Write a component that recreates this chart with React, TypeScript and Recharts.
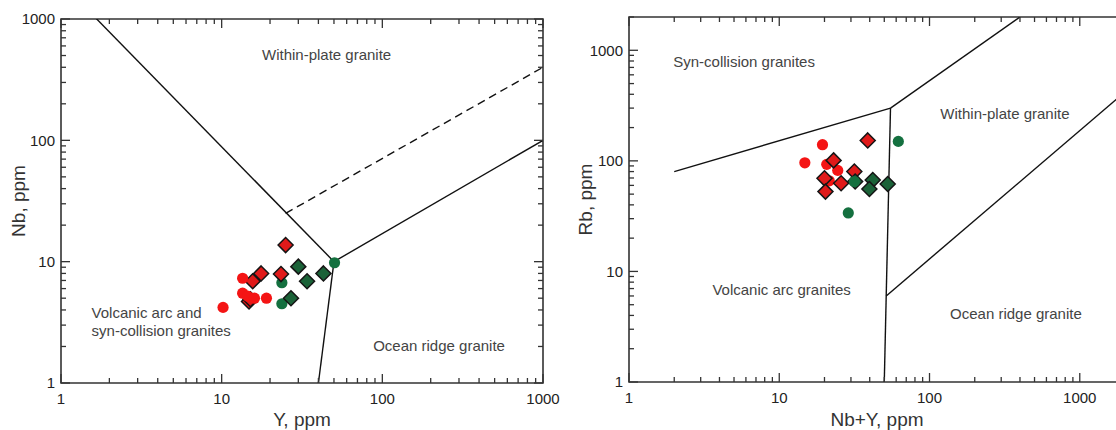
import React from 'react';
import {
  ScatterChart,
  Scatter,
  XAxis,
  YAxis,
  ReferenceLine,
  ReferenceArea,
  ReferenceDot
} from 'recharts';

const FONT = '"Liberation Sans", Arial, Helvetica, sans-serif';

// log axis ticks
const LOG_TICKS = [1, 2, 3, 4, 5, 6, 7, 8, 9, 10, 20, 30, 40, 50, 60, 70, 80, 90, 100, 200, 300, 400, 500, 600, 700, 800, 900, 1000];
const LOG_TICKS_2000 = [...LOG_TICKS, 2000];
const MAJOR_TICKS = [1, 10, 100, 1000];

// Nb vs Y (x = Y, y = Nb)
const nbRedCircles = [
  { x: 13.5, y: 7.3 }, { x: 13.5, y: 5.5 }, { x: 14.5, y: 5.2 },
  { x: 16, y: 5.0 }, { x: 19, y: 5.0 }, { x: 10.2, y: 4.2 }
];
const nbRedDiamonds = [
  { x: 25, y: 13.7 }, { x: 17.6, y: 8.0 }, { x: 23.4, y: 7.9 },
  { x: 15.6, y: 6.9 }, { x: 14.8, y: 4.7 }, { x: 15.1, y: 4.9 }
];
const nbGreenCircles = [{ x: 23.7, y: 6.7 }, { x: 23.7, y: 4.5 }, { x: 50.4, y: 9.8 }];
const nbGreenDiamonds = [{ x: 30, y: 9.1 }, { x: 43, y: 8.0 }, { x: 34, y: 6.9 }, { x: 27, y: 5.0 }];

// Rb vs Nb+Y
const rbRedCircles = [
  { x: 19.4, y: 140 }, { x: 14.8, y: 96 }, { x: 20.7, y: 93 },
  { x: 24.5, y: 82 }, { x: 21.5, y: 66 }
];
const rbRedDiamonds = [
  { x: 38.8, y: 153 }, { x: 23, y: 101 }, { x: 31.6, y: 80 },
  { x: 20, y: 69.5 }, { x: 25.8, y: 62.7 }, { x: 20.3, y: 52.7 }
];
const rbGreenCircles = [{ x: 62, y: 150 }, { x: 28.8, y: 33.8 }];
const rbGreenDiamonds = [{ x: 41.9, y: 67 }, { x: 39.8, y: 55.7 }, { x: 52.7, y: 61.8 }, { x: 32, y: 65 }];
const rbGreenCirclesTop = [{ x: 31.6, y: 65 }];

// field boundaries
const nbBoundaries = [
  [{ x: 1, y: 2000 }, { x: 50, y: 10 }],
  [{ x: 50, y: 10 }, { x: 1000, y: 100 }],
  [{ x: 50, y: 10 }, { x: 40, y: 1 }]
];
const nbDashed = [{ x: 25, y: 25 }, { x: 1000, y: 400 }];
const rbBoundaries = [
  [{ x: 2, y: 80 }, { x: 55, y: 300 }],
  [{ x: 55, y: 300 }, { x: 400, y: 2000 }],
  [{ x: 55, y: 300 }, { x: 51.5, y: 6 }],
  [{ x: 51.5, y: 6 }, { x: 50, y: 1 }],
  [{ x: 51.5, y: 6 }, { x: 2000, y: 420 }]
];

// field names
const nbFields = [
  { text: 'Within-plate granite', x: 45, y: 507, anchor: 'middle' },
  { text: 'Volcanic arc and', x: 1.55, y: 3.79, anchor: 'start' },
  { text: 'syn-collision granites', x: 1.55, y: 2.71, anchor: 'start' },
  { text: 'Ocean ridge granite', x: 87.7, y: 2.01, anchor: 'start' }
];
const rbFields = [
  { text: 'Syn-collision granites', x: 1.97, y: 786, anchor: 'start' },
  { text: 'Within-plate granite', x: 118, y: 264, anchor: 'start' },
  { text: 'Volcanic arc granites', x: 3.59, y: 6.84, anchor: 'start' },
  { text: 'Ocean ridge granite', x: 137, y: 4.11, anchor: 'start' }
];

const RED = '#f41414';
const RED_D = '#e01a1a';
const GREEN = '#14703f';
const GREEN_D = '#1b6238';

const Dot = ({ cx, cy, fill }: any) => <circle cx={cx} cy={cy} r={5.6} fill={fill} />;
const Diamond = ({ cx, cy, fill }: any) => (
  <path
    d={`M${cx},${cy - 7.5} L${cx + 7.5},${cy} L${cx},${cy + 7.5} L${cx - 7.5},${cy} Z`}
    fill={fill}
    stroke="#151515"
    strokeWidth={1.5}
  />
);

const makeXTick = (plotH: number) => (props: any) => {
  const { x, y, payload } = props;
  const v = payload.value;
  const major = MAJOR_TICKS.includes(v);
  const len = major ? 9 : 5;
  return (
    <g>
      <line x1={x} y1={y} x2={x} y2={y - len} stroke="#333" strokeWidth={1.3} />
      <line x1={x} y1={y - plotH} x2={x} y2={y - plotH + len} stroke="#333" strokeWidth={1.3} />
      {major && (
        <text x={x} y={y + 21} textAnchor="middle" fontSize={15} fill="#222" fontFamily={FONT}>
          {v}
        </text>
      )}
    </g>
  );
};

const makeYTick = (plotW: number) => (props: any) => {
  const { x, y, payload } = props;
  const v = payload.value;
  const major = MAJOR_TICKS.includes(v);
  const len = major ? 9 : 5;
  return (
    <g>
      <line x1={x} y1={y} x2={x + len} y2={y} stroke="#333" strokeWidth={1.3} />
      <line x1={x + plotW} y1={y} x2={x + plotW - len} y2={y} stroke="#333" strokeWidth={1.3} />
      {major && (
        <text x={x - 6} y={y} dy="0.35em" textAnchor="end" fontSize={15} fill="#222" fontFamily={FONT}>
          {v}
        </text>
      )}
    </g>
  );
};

const fieldLabel = (f: any) => (
  <ReferenceDot
    key={f.text}
    x={f.x}
    y={f.y}
    r={0}
    shape={(p: any) => (
      <text x={p.cx} y={p.cy} dy="0.35em" textAnchor={f.anchor} fontSize={15} fill="#444" fontFamily={FONT}>
        {f.text}
      </text>
    )}
  />
);

const titleStyle = { fontSize: 19, fill: '#333', fontFamily: FONT };

export default function App() {
  return (
    <div style={{ position: 'absolute', left: 0, top: 0, width: 1116, height: 430, overflow: 'hidden', background: '#fff' }}>
      <div style={{ position: 'absolute', left: 0, top: 0 }}>
        <ScatterChart width={560} height={430} margin={{ top: 19, right: 17, bottom: 0, left: 4 }}>
          <XAxis
            type="number" dataKey="x" scale="log" domain={[1, 1000]} allowDataOverflow
            ticks={LOG_TICKS} interval={0} axisLine={false} tickLine={false} tickSize={0} tickMargin={0}
            height={47} tick={makeXTick(364)}
            label={{ value: 'Y, ppm', position: 'insideBottom', offset: 4, style: titleStyle }}
          />
          <YAxis
            type="number" dataKey="y" scale="log" domain={[1, 1000]} allowDataOverflow
            ticks={LOG_TICKS} interval={0} axisLine={false} tickLine={false} tickSize={0} tickMargin={0}
            width={57} tick={makeYTick(482)}
            label={{ value: 'Nb, ppm', angle: -90, position: 'insideLeft', offset: 14, style: { ...titleStyle, textAnchor: 'middle' } }}
          />
          <ReferenceArea x1={1} x2={1000} y1={1} y2={1000} fill="none" stroke="#333" strokeWidth={1.6} ifOverflow="visible" />
          {nbBoundaries.map((seg, i) => (
            <ReferenceLine key={i} segment={seg} stroke="#111" strokeWidth={1.4} ifOverflow="hidden" />
          ))}
          <ReferenceLine segment={nbDashed} stroke="#111" strokeWidth={1.4} strokeDasharray="8 5" ifOverflow="hidden" />
          {nbFields.map(fieldLabel)}
          <Scatter data={nbGreenCircles} fill={GREEN} shape={(p: any) => <Dot {...p} fill={GREEN} />} isAnimationActive={false} />
          <Scatter data={nbGreenDiamonds} fill={GREEN_D} shape={(p: any) => <Diamond {...p} fill={GREEN_D} />} isAnimationActive={false} />
          <Scatter data={nbRedDiamonds} fill={RED_D} shape={(p: any) => <Diamond {...p} fill={RED_D} />} isAnimationActive={false} />
          <Scatter data={nbRedCircles} fill={RED} shape={(p: any) => <Dot {...p} fill={RED} />} isAnimationActive={false} />
        </ScatterChart>
      </div>
      <div style={{ position: 'absolute', left: 560, top: 0 }}>
        <ScatterChart width={600} height={430} margin={{ top: 17, right: 35, bottom: 0, left: 10 }}>
          <XAxis
            type="number" dataKey="x" scale="log" domain={[1, 2000]} allowDataOverflow
            ticks={LOG_TICKS_2000} interval={0} axisLine={false} tickLine={false} tickSize={0} tickMargin={0}
            height={48} tick={makeXTick(365)}
            label={{ value: 'Nb+Y, ppm', position: 'insideBottom', offset: 4, style: titleStyle }}
          />
          <YAxis
            type="number" dataKey="y" scale="log" domain={[1, 2000]} allowDataOverflow
            ticks={LOG_TICKS_2000} interval={0} axisLine={false} tickLine={false} tickSize={0} tickMargin={0}
            width={59} tick={makeYTick(496)}
            label={{ value: 'Rb, ppm', angle: -90, position: 'insideLeft', offset: 15, style: { ...titleStyle, textAnchor: 'middle' } }}
          />
          <ReferenceArea x1={1} x2={2000} y1={1} y2={2000} fill="none" stroke="#333" strokeWidth={1.6} ifOverflow="visible" />
          {rbBoundaries.map((seg, i) => (
            <ReferenceLine key={i} segment={seg} stroke="#111" strokeWidth={1.4} ifOverflow="hidden" />
          ))}
          {rbFields.map(fieldLabel)}
          <Scatter data={rbRedCircles} fill={RED} shape={(p: any) => <Dot {...p} fill={RED} />} isAnimationActive={false} />
          <Scatter data={rbRedDiamonds} fill={RED_D} shape={(p: any) => <Diamond {...p} fill={RED_D} />} isAnimationActive={false} />
          <Scatter data={rbGreenCircles} fill={GREEN} shape={(p: any) => <Dot {...p} fill={GREEN} />} isAnimationActive={false} />
          <Scatter data={rbGreenDiamonds} fill={GREEN_D} shape={(p: any) => <Diamond {...p} fill={GREEN_D} />} isAnimationActive={false} />
          <Scatter data={rbGreenCirclesTop} fill={GREEN} shape={(p: any) => <Dot {...p} fill={GREEN} />} isAnimationActive={false} />
        </ScatterChart>
      </div>
    </div>
  );
}
